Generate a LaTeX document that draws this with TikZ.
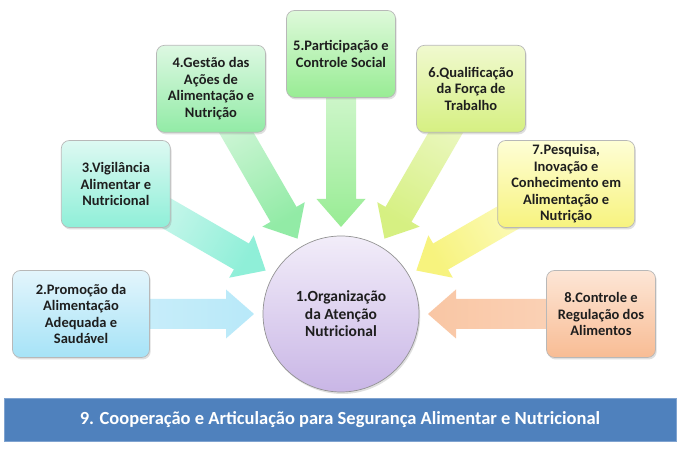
\documentclass[tikz,border=0pt]{standalone}
\usepackage{fontspec}
\setmainfont{Carlito}
\usetikzlibrary{calc,shadows}
\pgfdeclarelayer{back}
\pgfdeclarelayer{bg}
\pgfsetlayers{back,bg,main}
\definecolor{txt}{HTML}{1E1E1E}
\definecolor{edge}{HTML}{B8B8B8}
\definecolor{bartop}{HTML}{4F81BD}
\definecolor{baredge}{HTML}{7FA3D0}
\definecolor{bAt}{HTML}{E3F5FC}\definecolor{bAb}{HTML}{A6E3F7}
\definecolor{bBt}{HTML}{DDF9F2}\definecolor{bBb}{HTML}{8FEFD8}
\definecolor{bCt}{HTML}{DDF8E2}\definecolor{bCb}{HTML}{92EBA6}
\definecolor{bDt}{HTML}{DEF9DA}\definecolor{bDb}{HTML}{98EC94}
\definecolor{bEt}{HTML}{F0F9CF}\definecolor{bEb}{HTML}{D6F082}
\definecolor{bFt}{HTML}{FEFED6}\definecolor{bFb}{HTML}{F7F37E}
\definecolor{bGt}{HTML}{FDE6D6}\definecolor{bGb}{HTML}{F8BC94}
\definecolor{cit}{HTML}{F2EDF9}\definecolor{cib}{HTML}{C9B6E6}
\tikzset{
  box/.style={draw=edge, line width=0.7pt, rounded corners=8pt, minimum height=87pt,
    minimum width=109pt, align=center, text=txt, font=\bfseries\fontsize{14.5}{16.5}\selectfont,
    drop shadow={shadow xshift=1.2pt, shadow yshift=-2pt, opacity=0.25}},
  widebox/.style={box, minimum width=137pt},
  hub/.style={circle, draw=edge!80!black, line width=0.7pt, minimum size=156pt, align=center,
    text=txt, font=\bfseries\fontsize{15.5}{17.5}\selectfont, top color=cit, bottom color=cib,
    drop shadow={shadow xshift=1.2pt, shadow yshift=-2pt, opacity=0.25}},
  bar/.style={draw=baredge, line width=0.8pt, fill=bartop, minimum width=672pt, minimum height=43pt,
    text=white, font=\bfseries\fontsize{18.5}{22}\selectfont}
}
\newcommand\blockarrow[4]{%
  \coordinate (t#1) at ($(c.center)!87pt!(#1.center)$);
  \coordinate (h#1) at ($(t#1)!28pt!(#1.center)$);
  \path[top color=#3, bottom color=#2, shading angle=#4]
    ($(#1.center)!15pt!90:(t#1)$) -- ($(h#1)!15pt!90:(t#1)$) -- ($(h#1)!24.5pt!90:(t#1)$)
    -- (t#1) -- ($(h#1)!24.5pt!-90:(t#1)$) -- ($(h#1)!15pt!-90:(t#1)$)
    -- ($(#1.center)!15pt!-90:(t#1)$) -- cycle;
}
\begin{document}
\begin{tikzpicture}[x=1pt, y=1pt]
\useasboundingbox (0,0) rectangle (681,449);
\begin{pgfonlayer}{back}
\fill[white] (0,0) rectangle (681,449);
\end{pgfonlayer}
\node[hub] (c) at (341,135) {1.Organização\\da Atenção\\Nutricional};
\node[widebox, top color=bAt, bottom color=bAb] (b2) at ($(c.center)+(180:260)$) {2.Promoção da\\Alimentação\\Adequada e\\Saudável};
\node[box, top color=bBt, bottom color=bBb] (b3) at ($(c.center)+(150:260)$) {3.Vigilância\\Alimentar e\\Nutricional};
\node[box, top color=bCt, bottom color=bCb] (b4) at ($(c.center)+(120:260)$) {4.Gestão das\\Ações de\\Alimentação e\\Nutrição};
\node[box, top color=bDt, bottom color=bDb] (b5) at ($(c.center)+(90:260)$) {5.Participação e\\Controle Social};
\node[box, top color=bEt, bottom color=bEb] (b6) at ($(c.center)+(60:260)$) {6.Qualificação\\da Força de\\Trabalho};
\node[widebox, top color=bFt, bottom color=bFb] (b7) at ($(c.center)+(30:260)$) {7.Pesquisa,\\Inovação e\\Conhecimento em\\Alimentação e\\Nutrição};
\node[box, top color=bGt, bottom color=bGb] (b8) at ($(c.center)+(0:260)$) {8.Controle e\\Regulação dos\\Alimentos};
\node[bar] (b9) at (340,29.5) {9. Cooperação e Articulação para Segurança Alimentar e Nutricional};
\begin{pgfonlayer}{bg}
\blockarrow{b2}{bAt!70!bAb}{bAb!80!white}{-90}
\blockarrow{b3}{bBt}{bBb}{-120}
\blockarrow{b4}{bCt}{bCb}{-150}
\blockarrow{b5}{bDt}{bDb}{-180}
\blockarrow{b6}{bEt}{bEb}{-210}
\blockarrow{b7}{bFt}{bFb}{-240}
\blockarrow{b8}{bGt!60!bGb}{bGb!85!white}{90}
\end{pgfonlayer}
\end{tikzpicture}
\end{document}
